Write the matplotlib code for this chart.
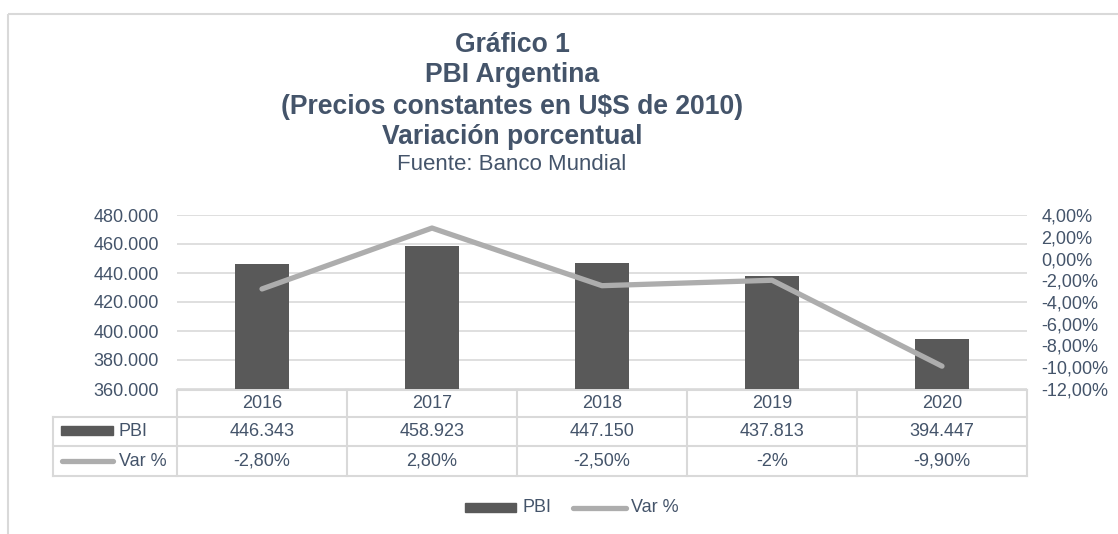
import matplotlib
matplotlib.use("Agg")
import matplotlib.pyplot as plt
from matplotlib.patches import Rectangle
from matplotlib.lines import Line2D
from matplotlib.transforms import blended_transform_factory
import numpy as np

plt.rcParams['font.family'] = ['Liberation Sans', 'DejaVu Sans']

years = ["2016", "2017", "2018", "2019", "2020"]
pbi = [446343, 458923, 447150, 437813, 394447]
var_pct = [-2.8, 2.8, -2.5, -2.0, -9.9]
pbi_labels = ["446.343", "458.923", "447.150", "437.813", "394.447"]
var_labels = ["-2,80%", "2,80%", "-2,50%", "-2%", "-9,90%"]
title_lines = ["Gráfico 1", "PBI Argentina", "(Precios constantes en U$S de 2010)", "Variación porcentual"]
source = "Fuente: Banco Mundial"
series_names = ["PBI", "Var %"]

W, H = 1118, 534
TXT = '#44546A'
BAR = '#595959'
LINE = '#ADADAD'
GRID = '#D9D9D9'

fig = plt.figure(figsize=(W / 100, H / 100), dpi=100)

# overlay in pixel coordinates
ov = fig.add_axes([0, 0, 1, 1], zorder=0)
ov.set_xlim(0, W)
ov.set_ylim(H, 0)
ov.axis('off')

L, R, T, B = 177, 1027, 215, 389
ax = fig.add_axes([L / W, (H - B) / H, (R - L) / W, (B - T) / H], zorder=2)
ax.patch.set_alpha(0)
x = np.arange(len(years))
bars = ax.bar(x, pbi, width=0.32, color=BAR, zorder=2)
ax.set_xlim(-0.5, len(years) - 0.5)
ax.set_ylim(360000, 480000)
yt = np.arange(360000, 480001, 20000)
ax.set_yticks(yt)
ax.set_yticklabels([f"{v:,}".replace(",", ".") for v in yt])
ax.grid(axis='y', color=GRID, lw=1.2, zorder=0)
ax.set_xticks([])
for s in ax.spines.values():
    s.set_visible(False)
ax.tick_params(axis='y', length=0, pad=13, labelsize=13, labelcolor=TXT)

ax2 = ax.twinx()
ax2.plot(x, var_pct, color=LINE, lw=3.8, solid_capstyle='round', solid_joinstyle='round', zorder=3)
ax2.set_ylim(-12, 4)
rt = np.arange(-12, 4.01, 2)
ax2.set_yticks(rt)
ax2.set_yticklabels([f"{v:.2f}%".replace(".", ",") for v in rt])
for s in ax2.spines.values():
    s.set_visible(False)
ax2.tick_params(axis='y', length=0, pad=10.5, labelsize=13, labelcolor=TXT)

# frame
ov.add_patch(Rectangle((7.5, 13.5), W + 20, H + 20, fill=False, ec=GRID, lw=1.5))

# titles
cx = 512
for txt, y in zip(title_lines, [45, 75, 107, 137]):
    ov.text(cx, y, txt, ha='center', va='center', fontsize=19.1, fontweight='bold', color=TXT)
ov.text(cx, 164, source, ha='center', va='center', fontsize=16, color=TXT)

# data table
tr = blended_transform_factory(ax.transData, ov.transData)
rows = [390, 416.5, 446, 476]
tl = 53
ov.plot([L, R], [rows[0], rows[0]], color=GRID, lw=1.5, zorder=1)
for yy in rows[1:]:
    ov.plot([tl, R], [yy, yy], color=GRID, lw=1.5, zorder=1)
for k in range(len(years) + 1):
    xe = k - 0.5
    ov.add_line(Line2D([xe, xe], [rows[0], rows[-1]], transform=tr, color=GRID, lw=1.5))
ov.plot([tl, tl], [rows[1], rows[-1]], color=GRID, lw=1.5)
for i in range(len(years)):
    ov.text(x[i], (rows[0] + rows[1]) / 2, years[i], transform=tr, ha='center', va='center', fontsize=13, color=TXT)
    ov.text(x[i], (rows[1] + rows[2]) / 2, pbi_labels[i], transform=tr, ha='center', va='center', fontsize=13, color=TXT)
    ov.text(x[i], (rows[2] + rows[3]) / 2, var_labels[i], transform=tr, ha='center', va='center', fontsize=13, color=TXT)
ov.add_patch(Rectangle((61, 426), 52, 9, color=BAR))
ov.text(119, 431.5, series_names[0], ha='left', va='center', fontsize=13, color=TXT)
ov.add_line(Line2D([62, 113], [461, 461], color=LINE, lw=3.8, solid_capstyle='round'))
ov.text(119, 461, series_names[1], ha='left', va='center', fontsize=13, color=TXT)

# legend
ov.add_patch(Rectangle((465, 503), 51, 9, color=BAR))
ov.text(522, 508, series_names[0], ha='left', va='center', fontsize=13, color=TXT)
ov.add_line(Line2D([573, 626], [508, 508], color=LINE, lw=3.8, solid_capstyle='round'))
ov.text(631, 508, series_names[1], ha='left', va='center', fontsize=13, color=TXT)

fig.savefig("out.png", dpi=100)
